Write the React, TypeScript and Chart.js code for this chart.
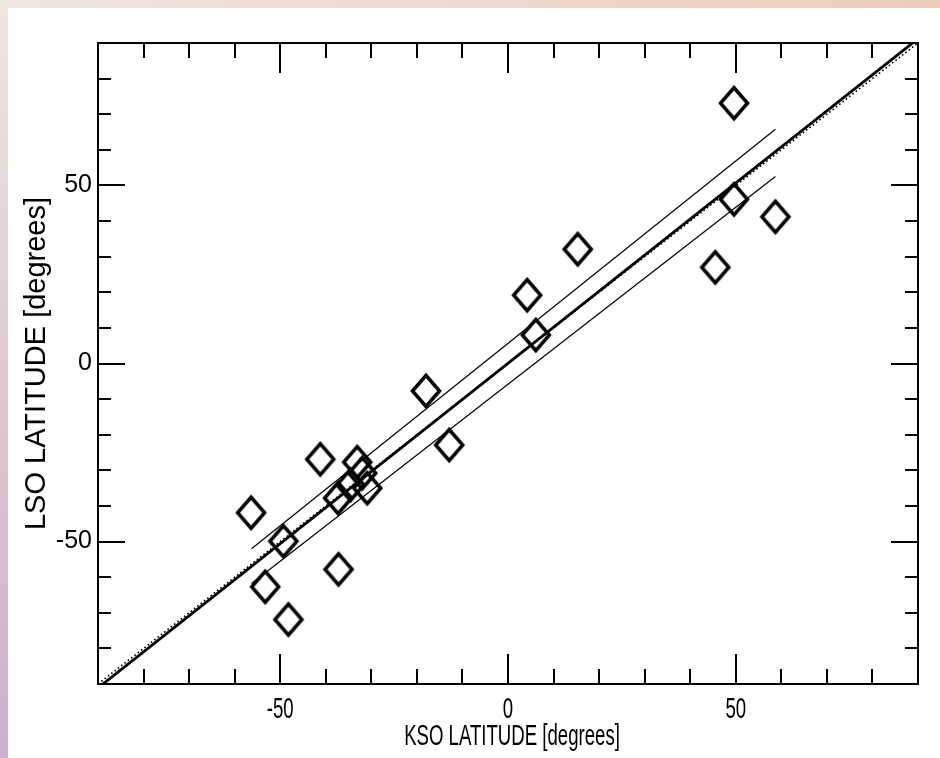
import React, { useEffect, useRef } from 'react';
import { Chart, registerables } from 'chart.js';

Chart.register(...registerables);

// ---- axis definition ----
const AXIS_MIN = -90;
const AXIS_MAX = 90;
const MAJOR_TICKS = [-50, 0, 50];
const TICK_LABELS = ['-50', '0', '50'];
const MINOR_TICKS = [-80, -70, -60, -40, -30, -20, -10, 10, 20, 30, 40, 60, 70, 80];
const X_TITLE = 'KSO LATITUDE [degrees]';
const Y_TITLE = 'LSO LATITUDE [degrees]';

// ---- observations (diamonds) ----
const KSO_LAT = [49.6, 49.6, 58.7, 45.5, 15.3, 4.2, 6.1, -18.0, -12.9, -41.2, -33.1, -32.0, -34.6, -30.9, -37.3, -56.4, -49.3, -37.2, -53.3, -48.2];
const LSO_LAT = [73.1, 46.1, 41.2, 27.0, 32.1, 19.2, 8.0, -7.7, -22.9, -26.9, -27.7, -30.8, -34.1, -35.0, -37.8, -41.9, -49.9, -57.8, -62.7, -71.9];

// ---- lines ----
const FIT_X = [-90, 90];
const FIT_Y = [-91.1, 91.2];
const UPPER_X = [-56.3, 58.7];
const UPPER_Y = [-52.0, 65.8];
const LOWER_X = [-56.3, 58.7];
const LOWER_Y = [-61.8, 52.5];
const IDENTITY_X = [-90, 90];
const IDENTITY_Y = [-90, 90];

const FONT = '"Liberation Sans", Arial, Helvetica, sans-serif';

const pts = (xs: number[], ys: number[]) => xs.map((x, i) => ({ x, y: ys[i] }));

function makeDiamond(): HTMLCanvasElement {
  const c = document.createElement('canvas');
  const w = 34, h = 38;
  c.width = w;
  c.height = h;
  const g = c.getContext('2d')!;
  const cx = w / 2, cy = h / 2, hw = 13.5, hh = 15.5;
  g.strokeStyle = '#000';
  g.lineWidth = 3.5;
  g.lineJoin = 'miter';
  g.beginPath();
  g.moveTo(cx, cy - hh);
  g.lineTo(cx + hw, cy);
  g.lineTo(cx, cy + hh);
  g.lineTo(cx - hw, cy);
  g.closePath();
  g.stroke();
  return c;
}

const framePlugin = {
  id: 'idlFrame',
  afterDraw(chart: any) {
    const { ctx, chartArea: a, scales } = chart;
    const xs = scales.x, ys = scales.y;
    ctx.save();
    ctx.strokeStyle = '#000';
    ctx.lineWidth = 2;
    ctx.strokeRect(a.left, a.top, a.right - a.left, a.bottom - a.top);
    const xMaj = 30, xMin = 15, yMaj = 27, yMin = 13;
    ctx.beginPath();
    const drawX = (v: number, len: number) => {
      const p = Math.round(xs.getPixelForValue(v));
      ctx.moveTo(p, a.bottom); ctx.lineTo(p, a.bottom - len);
      ctx.moveTo(p, a.top); ctx.lineTo(p, a.top + len);
    };
    const drawY = (v: number, len: number) => {
      const p = Math.round(ys.getPixelForValue(v));
      ctx.moveTo(a.left, p); ctx.lineTo(a.left + len, p);
      ctx.moveTo(a.right, p); ctx.lineTo(a.right - len, p);
    };
    MAJOR_TICKS.forEach((v) => { drawX(v, xMaj); drawY(v, yMaj); });
    MINOR_TICKS.forEach((v) => { drawX(v, xMin); drawY(v, yMin); });
    ctx.stroke();

    // x-axis labels and title (condensed, as in the original)
    ctx.fillStyle = '#000';
    ctx.textAlign = 'center';
    ctx.textBaseline = 'middle';
    ctx.font = `30px ${FONT}`;
    MAJOR_TICKS.forEach((v, i) => {
      const p = xs.getPixelForValue(v);
      ctx.save();
      ctx.translate(p, a.bottom + 26);
      ctx.scale(0.62, 1);
      ctx.fillText(TICK_LABELS[i], 0, 0);
      ctx.restore();
    });
    ctx.save();
    ctx.translate((a.left + a.right) / 2 + 4, a.bottom + 53);
    ctx.scale(0.62, 1);
    ctx.fillText(X_TITLE, 0, 0);
    ctx.restore();
    ctx.restore();
  },
};

export default function App() {
  const ref = useRef<HTMLCanvasElement>(null);

  useEffect(() => {
    document.documentElement.style.overflow = 'hidden';
    document.body.style.margin = '0';

    const diamond = makeDiamond();
    const lineDs = (data: any, width: number, dash: number[] = []) => ({
      type: 'scatter' as const,
      data,
      showLine: true,
      borderColor: '#000',
      backgroundColor: '#000',
      borderWidth: width,
      borderDash: dash,
      pointRadius: 0,
      fill: false,
    });

    const chart = new Chart(ref.current!, {
      type: 'scatter',
      data: {
        datasets: [
          lineDs(pts(IDENTITY_X, IDENTITY_Y), 1.6, [1.6, 2.6]),
          lineDs(pts(FIT_X, FIT_Y), 2.8),
          lineDs(pts(UPPER_X, UPPER_Y), 1.2),
          lineDs(pts(LOWER_X, LOWER_Y), 1.2),
          {
            type: 'scatter',
            data: pts(KSO_LAT, LSO_LAT),
            showLine: false,
            pointStyle: diamond as any,
            pointRadius: 15,
            borderColor: '#000',
            backgroundColor: 'rgba(0,0,0,0)',
          },
        ],
      },
      options: {
        responsive: false,
        animation: false,
        devicePixelRatio: 1,
        layout: { padding: { left: 0, top: 35, right: 22, bottom: 0 } },
        plugins: { legend: { display: false }, tooltip: { enabled: false } },
        scales: {
          x: {
            type: 'linear',
            min: AXIS_MIN,
            max: AXIS_MAX,
            afterBuildTicks: (s: any) => { s.ticks = MAJOR_TICKS.map((v) => ({ value: v })); },
            ticks: { display: false },
            grid: { display: false },
            border: { display: false },
            afterFit: (s: any) => { s.height = 74; },
          },
          y: {
            type: 'linear',
            min: AXIS_MIN,
            max: AXIS_MAX,
            afterBuildTicks: (s: any) => { s.ticks = MAJOR_TICKS.map((v) => ({ value: v })); },
            ticks: {
              color: '#000',
              padding: 6,
              font: { family: FONT, size: 25 },
              callback: (v: any) => TICK_LABELS[MAJOR_TICKS.indexOf(Number(v))] ?? '',
            },
            grid: { display: false, drawTicks: false },
            border: { display: false },
            title: {
              display: true,
              text: Y_TITLE,
              color: '#000',
              font: { family: FONT, size: 29 },
              padding: { top: 12, bottom: 0 },
            },
            afterFit: (s: any) => { s.width = 90; },
          },
        },
      },
      plugins: [framePlugin],
    });
    return () => chart.destroy();
  }, []);

  return (
    <div
      style={{
        position: 'relative',
        width: 940,
        height: 758,
        overflow: 'hidden',
        background:
          'linear-gradient(to right, #eee6e2, #eccdbc) left top / 100% 8px no-repeat, linear-gradient(to bottom, #efe6e1, #d9c8cf 55%, #c7b3cb)',
      }}
    >
      <canvas
        ref={ref}
        width={932}
        height={750}
        style={{
          position: 'absolute',
          left: 8,
          top: 8,
          display: 'block',
          width: 932,
          height: 750,
          background: '#fff',
        }}
      />
    </div>
  );
}
